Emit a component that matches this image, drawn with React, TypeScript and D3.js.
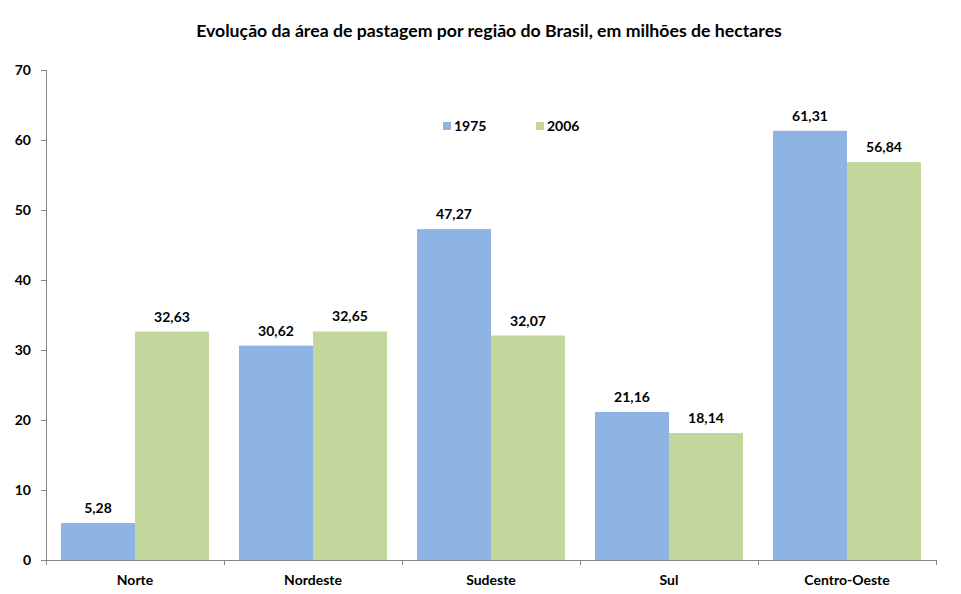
import React from 'react';
import * as d3 from 'd3';

const regions = ['Norte', 'Nordeste', 'Sudeste', 'Sul', 'Centro-Oeste'];
const years = ['1975', '2006'];
const values1975 = [5.28, 30.62, 47.27, 21.16, 61.31];
const values2006 = [32.63, 32.65, 32.07, 18.14, 56.84];
const yTicks = [0, 10, 20, 30, 40, 50, 60, 70];
const colors = ['#8EB4E3', '#C3D69B'];

const W = 961;
const H = 594;
const FONT = 'Lato, "Open Sans", sans-serif';

export default function App() {
  const ref = React.useRef<SVGSVGElement>(null);

  React.useEffect(() => {
    const svg = d3.select(ref.current);
    svg.selectAll('*').remove();

    const left = 46, right = 936, top = 70, bottom = 560;

    const x = d3.scaleBand().domain(regions).range([left, right]);
    const inner = d3.scaleBand().domain(years).range([15, x.bandwidth() - 15]);
    const y = d3.scaleLinear().domain([0, 70]).range([bottom, top]);

    svg.append('text')
      .attr('x', 489).attr('y', 37)
      .attr('text-anchor', 'middle')
      .style('font-family', FONT).style('font-weight', 700).style('font-size', '17.7px')
      .text('Evolução da área de pastagem por região do Brasil, em milhões de hectares');

    const series = [values1975, values2006];
    const rows = regions.map((r, i) => ({ r, vals: series.map(s => s[i]) }));

    const g = svg.append('g');
    rows.forEach(row => {
      row.vals.forEach((v, k) => {
        const bx = (x(row.r) as number) + (inner(years[k]) as number);
        g.append('rect')
          .attr('x', bx).attr('y', y(v))
          .attr('width', inner.bandwidth()).attr('height', y(0) - y(v))
          .attr('fill', colors[k]);
        g.append('text')
          .attr('x', bx + inner.bandwidth() / 2).attr('y', y(v) - 10)
          .attr('text-anchor', 'middle')
          .style('font-family', FONT).style('font-weight', 700).style('font-size', '14px')
          .text(d3.format('.2f')(v).replace('.', ','));
      });
    });

    // y axis
    const ya = svg.append('g').attr('transform', `translate(${left},0)`)
      .call(d3.axisLeft(y).tickValues(yTicks).tickSize(5).tickPadding(10));
    ya.selectAll('path, line').attr('stroke', '#868686');
    ya.select('.domain').attr('d', `M0.5,${top}V${bottom}`);
    ya.selectAll('text')
      .style('font-family', FONT).style('font-weight', 700).style('font-size', '14px')
      .attr('fill', '#000');

    // x axis, ticks on band edges
    const xa = svg.append('g').attr('transform', `translate(0,${bottom})`);
    xa.append('line').attr('x1', left).attr('x2', right).attr('y1', 0.5).attr('y2', 0.5)
      .attr('stroke', '#868686');
    const edges = regions.map(r => x(r) as number).concat([right]);
    xa.selectAll('line.tk').data(edges).enter().append('line')
      .attr('class', 'tk')
      .attr('x1', d => Math.round(d) + 0.5).attr('x2', d => Math.round(d) + 0.5)
      .attr('y1', 0).attr('y2', 5).attr('stroke', '#868686');
    xa.selectAll('text').data(regions).enter().append('text')
      .attr('x', d => (x(d) as number) + x.bandwidth() / 2).attr('y', 25)
      .attr('text-anchor', 'middle')
      .style('font-family', FONT).style('font-weight', 700).style('font-size', '14px')
      .text(d => d);

    // legend
    const lg = svg.append('g');
    [[443, '1975'], [536, '2006']].forEach(([lx, label], k) => {
      lg.append('rect').attr('x', lx as number).attr('y', 122).attr('width', 8).attr('height', 8)
        .attr('fill', colors[k]);
      lg.append('text').attr('x', (lx as number) + 11).attr('y', 131)
        .style('font-family', FONT).style('font-weight', 700).style('font-size', '14px')
        .text(label as string);
    });
  }, []);

  return (
    <svg ref={ref} width={W} height={H}
      style={{ position: 'absolute', left: 0, top: 0, background: '#fff' }} />
  );
}
